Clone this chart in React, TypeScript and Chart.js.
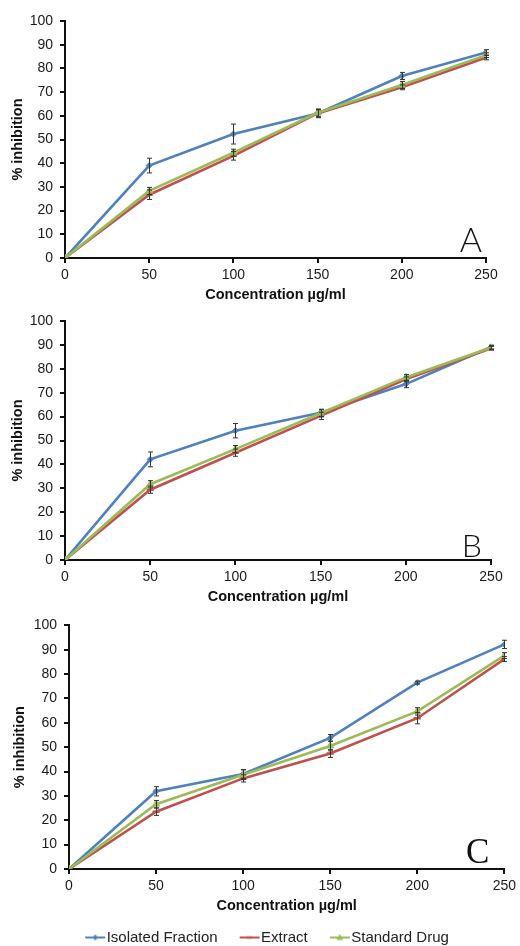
import React, { useEffect, useRef } from "react";
import { Chart, registerables } from "chart.js";

Chart.register(...registerables);

// ---------- data ----------
const concentrations = [0, 50, 100, 150, 200, 250];
const seriesNames = ["Isolated Fraction", "Extract", "Standard Drug"];
const xTickValues = [0, 50, 100, 150, 200, 250];
const yTickValues = [0, 10, 20, 30, 40, 50, 60, 70, 80, 90, 100];
const panelLetters = ["A", "B", "C"];

const isolatedA = [0, 39, 52.3, 61, 76.8, 86.7];
const isolatedErrA = [0, 3.1, 4.2, 1.8, 1.5, 1.2];
const extractA = [0, 26.7, 43.1, 61, 72, 84.6];
const extractErrA = [0, 2, 1.8, 1.5, 1, 1];
const standardA = [0, 28.3, 44.4, 61.3, 73, 85.6];
const standardErrA = [0, 1.5, 1.5, 1.5, 1.5, 1];

const isolatedB = [0, 42.1, 54.1, 61.6, 73.6, 89.1];
const isolatedErrB = [0, 3.1, 3, 1.5, 1.5, 0.8];
const extractB = [0, 29.4, 44.9, 60.3, 75.6, 88.6];
const extractErrB = [0, 1.5, 1.5, 1.5, 1, 0.8];
const standardB = [0, 31.7, 46.4, 61.4, 76.4, 88.9];
const standardErrB = [0, 1.5, 1.5, 1.5, 1.2, 0.8];

const isolatedC = [0, 31.9, 39, 53.8, 76.5, 92.2];
const isolatedErrC = [0, 1.9, 1.8, 1.4, 0.6, 1.7];
const extractC = [0, 23.5, 37.2, 47.4, 61.9, 86.2];
const extractErrC = [0, 1.5, 1.5, 1.6, 2.3, 1];
const standardC = [0, 26.6, 38.7, 50.5, 64.7, 87.6];
const standardErrC = [0, 1.5, 2, 2, 1.5, 1.2];

// ---------- styles ----------
const COLORS = ["#4F81BD", "#C0504D", "#9BBB59"];
const MARKERS = ["rectRot", "line", "triangle"];
const MARKER_R = [3, 3.5, 4];
const FONT = "'Liberation Sans', Arial, sans-serif";

type Spec = {
  top: number;
  height: number;
  plotLeft: number;
  plotRight: number;
  plotTop: number;
  letter: string;
  letterFont: string;
  letterDx: number;
  letterDy: number;
  values: number[][];
  errors: number[][];
  legend: boolean;
};

const SPECS: Spec[] = [
  {
    top: 0, height: 305, plotLeft: 65, plotRight: 486, plotTop: 21,
    letter: panelLetters[0], letterFont: "300 34px Lato, 'DejaVu Sans'", letterDx: 4, letterDy: 6,
    values: [isolatedA, extractA, standardA],
    errors: [isolatedErrA, extractErrA, standardErrA],
    legend: false,
  },
  {
    top: 305, height: 302, plotLeft: 65, plotRight: 491, plotTop: 321,
    letter: panelLetters[1], letterFont: "300 32px Lato, 'DejaVu Sans'", letterDx: 9, letterDy: 3,
    values: [isolatedB, extractB, standardB],
    errors: [isolatedErrB, extractErrB, standardErrB],
    legend: false,
  },
  {
    top: 610, height: 336, plotLeft: 69, plotRight: 506, plotTop: 622,
    letter: panelLetters[2], letterFont: "35px 'Liberation Serif', 'Times New Roman', serif", letterDx: 15, letterDy: 6,
    values: [isolatedC, extractC, standardC],
    errors: [isolatedErrC, extractErrC, standardErrC],
    legend: true,
  },
];

function legendIcon(color: string, marker: string) {
  const c = document.createElement("canvas");
  c.width = 36;
  c.height = 12;
  const g = c.getContext("2d")!;
  g.strokeStyle = color;
  g.fillStyle = color;
  g.lineWidth = 2;
  g.beginPath();
  g.moveTo(15, 6);
  g.lineTo(35, 6);
  g.stroke();
  const cx = 25, cy = 6;
  g.beginPath();
  if (marker === "rectRot") {
    g.moveTo(cx, cy - 3);
    g.lineTo(cx + 3, cy);
    g.lineTo(cx, cy + 3);
    g.lineTo(cx - 3, cy);
    g.closePath();
    g.fill();
  } else if (marker === "triangle") {
    g.moveTo(cx, cy - 3.5);
    g.lineTo(cx + 3.5, cy + 2.5);
    g.lineTo(cx - 3.5, cy + 2.5);
    g.closePath();
    g.fill();
  } else {
    g.lineWidth = 2.5;
    g.moveTo(cx - 3, cy);
    g.lineTo(cx + 3, cy);
    g.stroke();
  }
  return c;
}

const errorBarPlugin = {
  id: "errorBars",
  afterDatasetsDraw(chart: any) {
    const ctx = chart.ctx;
    const yScale = chart.scales.y;
    ctx.save();
    ctx.strokeStyle = "#333";
    ctx.lineWidth = 1;
    chart.data.datasets.forEach((ds: any, i: number) => {
      const meta = chart.getDatasetMeta(i);
      ds.errors.forEach((e: number, j: number) => {
        if (!e) return;
        const pt = meta.data[j];
        const v = ds.data[j].y;
        const y1 = yScale.getPixelForValue(v + e);
        const y2 = yScale.getPixelForValue(v - e);
        const x = Math.round(pt.x) + 0.5;
        ctx.beginPath();
        ctx.moveTo(x, y1);
        ctx.lineTo(x, y2);
        ctx.moveTo(x - 2.5, y1);
        ctx.lineTo(x + 2.5, y1);
        ctx.moveTo(x - 2.5, y2);
        ctx.lineTo(x + 2.5, y2);
        ctx.stroke();
      });
    });
    ctx.restore();
  },
};

function makeLetterPlugin(spec: Spec) {
  return {
    id: "panelLetter",
    afterDraw(chart: any) {
      const { ctx, chartArea } = chart;
      ctx.save();
      ctx.font = spec.letterFont;
      ctx.fillStyle = "#111";
      ctx.textAlign = "right";
      ctx.textBaseline = "alphabetic";
      ctx.fillText(spec.letter, chartArea.right - spec.letterDx, chartArea.bottom - spec.letterDy);
      ctx.restore();
    },
  };
}

const legendShiftPlugin = {
  id: "legendShift",
  afterLayout(chart: any) {
    const lg = chart.legend;
    if (lg && lg.options.display) {
      lg.left += 10;
      lg.right += 10;
    }
  },
};

function buildConfig(spec: Spec): any {
  const datasets = seriesNames.map((name, i) => ({
    label: name,
    data: concentrations.map((c, j) => ({ x: c, y: spec.values[i][j] })),
    errors: spec.errors[i],
    borderColor: COLORS[i],
    backgroundColor: COLORS[i],
    borderWidth: 2.6,
    pointStyle: MARKERS[i],
    pointRadius: MARKER_R[i],
    pointBackgroundColor: COLORS[i],
    pointBorderColor: COLORS[i],
    pointBorderWidth: i === 1 ? 2.5 : 1,
    tension: 0,
    order: 3 - i,
  }));

  const icons = seriesNames.map((_, i) => legendIcon(COLORS[i], MARKERS[i]));

  return {
    type: "line",
    data: { datasets },
    plugins: [errorBarPlugin, makeLetterPlugin(spec), legendShiftPlugin],
    options: {
      responsive: false,
      maintainAspectRatio: false,
      animation: false,
      layout: {
        padding: { left: 0, top: spec.plotTop - spec.top, right: 520 - spec.plotRight, bottom: 0 },
      },
      plugins: {
        tooltip: { enabled: false },
        legend: spec.legend
          ? {
              display: true,
              position: "bottom",
              maxHeight: 30,
              labels: {
                usePointStyle: true,
                pointStyleWidth: 22,
                boxHeight: 12,
                padding: 14,
                color: "#222",
                font: { family: FONT, size: 15 },
                generateLabels: () =>
                  seriesNames.map((name, i) => ({
                    text: name,
                    fillStyle: COLORS[i],
                    strokeStyle: COLORS[i],
                    lineWidth: 0,
                    pointStyle: icons[i],
                    hidden: false,
                    datasetIndex: i,
                    fontColor: "#222",
                  })),
              },
            }
          : { display: false },
      },
      scales: {
        x: {
          type: "linear",
          min: xTickValues[0],
          max: xTickValues[xTickValues.length - 1],
          afterBuildTicks: (s: any) => {
            s.ticks = xTickValues.map((v) => ({ value: v }));
          },
          ticks: { font: { family: FONT, size: 14 }, color: "#1a1a1a", padding: 4, maxRotation: 0 },
          grid: { drawOnChartArea: false, drawTicks: true, tickLength: 5, color: "#111", lineWidth: 2 },
          border: { display: true, color: "#111", width: 2 },
          title: {
            display: true,
            text: "Concentration µg/ml",
            font: { family: FONT, size: 14.5, weight: "bold" },
            color: "#111",
            padding: { top: 0, bottom: 1 },
          },
          afterFit: (s: any) => {
            s.height = 47;
          },
        },
        y: {
          type: "linear",
          min: yTickValues[0],
          max: yTickValues[yTickValues.length - 1],
          afterBuildTicks: (s: any) => {
            s.ticks = yTickValues.map((v) => ({ value: v }));
          },
          ticks: { font: { family: FONT, size: 14 }, color: "#1a1a1a", padding: 7 },
          grid: { drawOnChartArea: false, drawTicks: true, tickLength: 5, color: "#111", lineWidth: 2 },
          border: { display: true, color: "#111", width: 2 },
          title: {
            display: true,
            text: "% inhibition",
            font: { family: FONT, size: 14.5, weight: "bold" },
            color: "#111",
            padding: { top: spec.plotLeft === 69 ? 11.5 : 9.6, bottom: 0 },
          },
          afterFit: (s: any) => {
            s.width = spec.plotLeft;
          },
        },
      },
    },
  };
}

function Panel({ spec }: { spec: Spec }) {
  const ref = useRef<HTMLCanvasElement>(null);
  useEffect(() => {
    const chart = new Chart(ref.current!, buildConfig(spec));
    return () => chart.destroy();
  }, [spec]);
  return (
    <canvas
      ref={ref}
      width={520}
      height={spec.height}
      style={{ position: "absolute", left: 0, top: spec.top, width: 520, height: spec.height }}
    />
  );
}

export default function App() {
  return (
    <div
      style={{
        position: "absolute",
        left: 0,
        top: 0,
        width: 520,
        height: 946,
        overflow: "hidden",
        background: "#fff",
      }}
    >
      {SPECS.map((s, i) => (
        <Panel key={i} spec={s} />
      ))}
    </div>
  );
}
